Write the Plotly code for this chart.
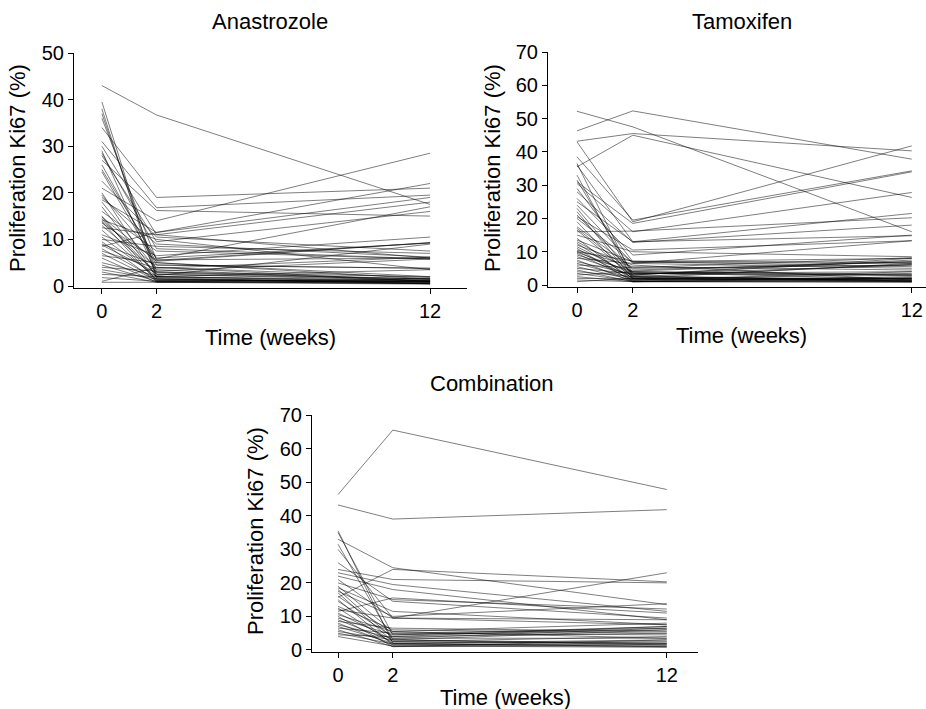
import plotly.graph_objects as go

weeks = [0, 2, 12]

# Anastrozole: Ki67 (%) at weeks 0, 2, 12 per patient
ana_w0 = [43.0, 39.5, 38.0, 37.0, 36.0, 34.0, 31.0, 30.0, 29.0, 28.5,
          27.0, 26.0, 24.5, 22.5, 21.0, 20.0, 19.5, 19.0, 18.5, 18.0,
          17.0, 16.0, 15.0, 14.8, 14.5, 14.2, 14.0, 13.8, 13.5, 13.0,
          12.5, 12.0, 11.0, 10.5, 10.0, 9.5, 9.0, 8.8, 8.5, 8.0,
          7.5, 7.0, 6.5, 6.0, 5.0, 4.5, 4.0, 3.5, 3.0, 2.5,
          1.8, 1.0, 0.8, 28.0, 25.0]
ana_w2 = [36.7, 2.0, 1.5, 3.0, 5.5, 19.0, 16.8, 11.0, 2.5, 8.0,
          16.2, 5.0, 4.5, 10.5, 14.0, 1.8, 6.0, 9.0, 11.5, 3.5,
          2.0, 7.5, 1.2, 5.3, 2.5, 10.0, 4.0, 1.0, 5.6, 3.0,
          11.0, 1.5, 6.5, 2.0, 8.5, 1.0, 4.5, 2.8, 11.5, 1.5,
          3.8, 1.2, 5.0, 0.8, 2.2, 1.0, 3.2, 1.5, 0.8, 2.0,
          1.0, 4.0, 0.8, 9.5, 5.8]
ana_w12 = [17.5, 1.0, 0.8, 1.5, 9.3, 21.0, 19.5, 6.0, 1.2, 5.8,
           15.0, 1.5, 3.8, 7.5, 28.5, 0.5, 9.2, 6.2, 22.0, 1.0,
           1.2, 5.8, 0.8, 9.3, 1.5, 3.5, 1.0, 0.5, 6.0, 2.0,
           18.0, 1.0, 10.5, 0.8, 7.0, 1.2, 3.8, 1.5, 19.0, 0.5,
           6.2, 1.0, 2.0, 0.8, 9.0, 1.5, 5.8, 0.6, 1.0, 3.5,
           0.5, 1.8, 0.4, 16.0, 17.0]

# Tamoxifen
tam_w0 = [52.2, 46.3, 43.2, 43.0, 35.5, 38.5, 31.0, 36.0, 30.5, 29.0,
          28.0, 26.0, 25.0, 24.0, 23.0, 22.0, 21.0, 20.0, 19.0, 16.0,
          17.5, 17.0, 16.5, 15.0, 14.0, 13.5, 13.0, 12.5, 12.0, 11.5,
          11.0, 10.5, 10.2, 10.0, 9.8, 9.5, 9.0, 8.5, 8.0, 7.5,
          7.0, 6.5, 6.0, 5.5, 5.0, 4.5, 4.0, 3.5, 3.0, 2.5,
          2.0, 1.5, 1.0, 20.5, 36.5, 33.0, 31.5]
tam_w2 = [47.5, 52.3, 45.5, 19.0, 45.0, 19.5, 18.5, 13.0, 16.0, 7.0,
          12.8, 9.0, 13.0, 6.5, 3.0, 2.0, 4.5, 6.8, 1.5, 16.2,
          5.0, 3.5, 2.5, 10.0, 1.2, 7.0, 4.0, 2.0, 6.0, 3.0,
          1.0, 5.5, 2.2, 7.2, 3.8, 1.5, 4.2, 2.8, 6.5, 1.0,
          3.2, 2.0, 5.2, 1.5, 3.5, 1.0, 2.5, 1.2, 4.0, 1.0,
          1.8, 1.0, 2.0, 10.5, 2.5, 1.8, 3.5]
tam_w12 = [16.0, 37.8, 40.3, 41.8, 26.3, 34.3, 34.0, 21.5, 27.8, 8.0,
           18.0, 15.0, 14.8, 13.3, 8.0, 1.5, 7.0, 6.5, 2.0, 20.2,
           6.0, 4.0, 1.2, 8.5, 2.5, 5.5, 3.0, 6.5, 1.5, 7.5,
           1.0, 4.5, 2.0, 6.8, 1.8, 3.5, 7.0, 1.2, 5.0, 2.2,
           6.0, 1.0, 8.2, 4.0, 2.8, 1.5, 6.2, 1.0, 3.2, 2.0,
           1.2, 0.8, 1.5, 13.3, 1.5, 2.0, 3.0]

# Combination
com_w0 = [46.3, 43.2, 35.5, 35.0, 33.0, 31.5, 26.0, 15.7, 24.0, 23.0,
          22.0, 21.0, 20.0, 19.0, 18.5, 18.0, 17.5, 17.0, 16.0, 15.0,
          14.5, 13.0, 12.5, 12.0, 11.0, 10.5, 10.0, 9.5, 9.0, 8.5,
          8.0, 7.5, 7.0, 6.5, 6.0, 5.5, 5.0, 4.5, 4.0, 30.0,
          11.5]
com_w2 = [65.5, 39.0, 2.0, 4.5, 24.5, 3.0, 14.5, 24.0, 21.0, 19.5,
          18.0, 9.5, 15.0, 5.5, 11.5, 3.5, 10.0, 2.5, 5.0, 1.5,
          4.0, 6.0, 2.0, 9.5, 3.0, 5.5, 1.0, 4.5, 2.5, 6.5,
          1.5, 3.5, 2.0, 5.0, 1.0, 3.0, 1.8, 4.0, 1.2, 9.5,
          15.5]
com_w12 = [47.8, 41.8, 3.0, 6.0, 13.5, 1.5, 9.5, 20.3, 20.0, 11.5,
           9.0, 23.0, 12.2, 8.0, 7.5, 3.5, 13.8, 2.0, 6.5, 1.0,
           7.0, 5.0, 2.5, 9.0, 6.0, 3.5, 1.5, 7.0, 4.0, 5.5,
           2.0, 6.5, 1.0, 4.5, 3.0, 2.0, 1.5, 5.0, 0.8, 7.5,
           11.0]

panel_titles = ["Anastrozole", "Tamoxifen", "Combination"]
x_title = "Time (weeks)"
y_title = "Proliferation Ki67 (%)"

W, H = 926, 709
FONT = "Liberation Sans, Arial, Helvetica, sans-serif"

def px_x(p):
    return p / W

def px_y(p):
    return 1 - p / H

fig = go.Figure()

panels = [
    (ana_w0, ana_w2, ana_w12, "x", "y"),
    (tam_w0, tam_w2, tam_w12, "x2", "y2"),
    (com_w0, com_w2, com_w12, "x3", "y3"),
]
for w0, w2, w12, xa, ya in panels:
    for a, b, c in zip(w0, w2, w12):
        fig.add_trace(go.Scatter(
            x=weeks, y=[a, b, c], mode="lines",
            line=dict(color="rgba(0,0,0,0.85)", width=0.6),
            xaxis=xa, yaxis=ya, showlegend=False, hoverinfo="skip"))

axis_common = dict(
    showline=True, linecolor="black", linewidth=1,
    ticks="outside", ticklen=5, tickwidth=1, tickcolor="black",
    showgrid=False, zeroline=False, automargin=False,
    tickfont=dict(family=FONT, size=20, color="black"),
)

xvals = dict(tickmode="array", tickvals=weeks, ticktext=[str(w) for w in weeks])

fig.update_layout(
    width=W, height=H,
    margin=dict(l=0, r=0, t=0, b=0),
    paper_bgcolor="white", plot_bgcolor="white",
    font=dict(family=FONT, color="black"),
    xaxis=dict(domain=[px_x(74), px_x(467)], range=[-1.02, 13.35],
               anchor="y", **xvals, **axis_common),
    yaxis=dict(domain=[px_y(288), px_y(53)], range=[-0.43, 50],
               anchor="x", tickvals=[0, 10, 20, 30, 40, 50], **axis_common),
    xaxis2=dict(domain=[px_x(548), 1.0], range=[-1.04, 12.51],
                anchor="y2", **xvals, **axis_common),
    yaxis2=dict(domain=[px_y(287), px_y(52)], range=[-0.6, 70],
                anchor="x2", tickvals=[0, 10, 20, 30, 40, 50, 60, 70], **axis_common),
    xaxis3=dict(domain=[px_x(312), px_x(698)], range=[-0.95, 13.14],
                anchor="y3", **xvals, **axis_common),
    yaxis3=dict(domain=[px_y(652), px_y(415)], range=[-0.6, 70],
                anchor="x3", tickvals=[0, 10, 20, 30, 40, 50, 60, 70], **axis_common),
)

ann = []
title_pos = [(270, 22), (742, 22), (492, 383)]
for t, (x, y) in zip(panel_titles, title_pos):
    ann.append(dict(text=t, x=px_x(x), y=px_y(y), xref="paper", yref="paper",
                    showarrow=False, xanchor="center", yanchor="middle",
                    font=dict(family=FONT, size=22, color="black")))
for (x, y) in [(270, 338), (741, 336), (505, 697)]:
    ann.append(dict(text=x_title, x=px_x(x), y=px_y(y), xref="paper", yref="paper",
                    showarrow=False, xanchor="center", yanchor="middle",
                    font=dict(family=FONT, size=22, color="black")))
for (x, y) in [(18, 168), (493, 168), (255, 531)]:
    ann.append(dict(text=y_title, x=px_x(x), y=px_y(y), xref="paper", yref="paper",
                    showarrow=False, xanchor="center", yanchor="middle", textangle=-90,
                    font=dict(family=FONT, size=22, color="black")))
fig.update_layout(annotations=ann)

fig.write_html(
    "out.html",
    config={"displayModeBar": False, "staticPlot": True},
    post_script="document.body.style.margin='0';document.body.style.overflow='hidden';",
)
